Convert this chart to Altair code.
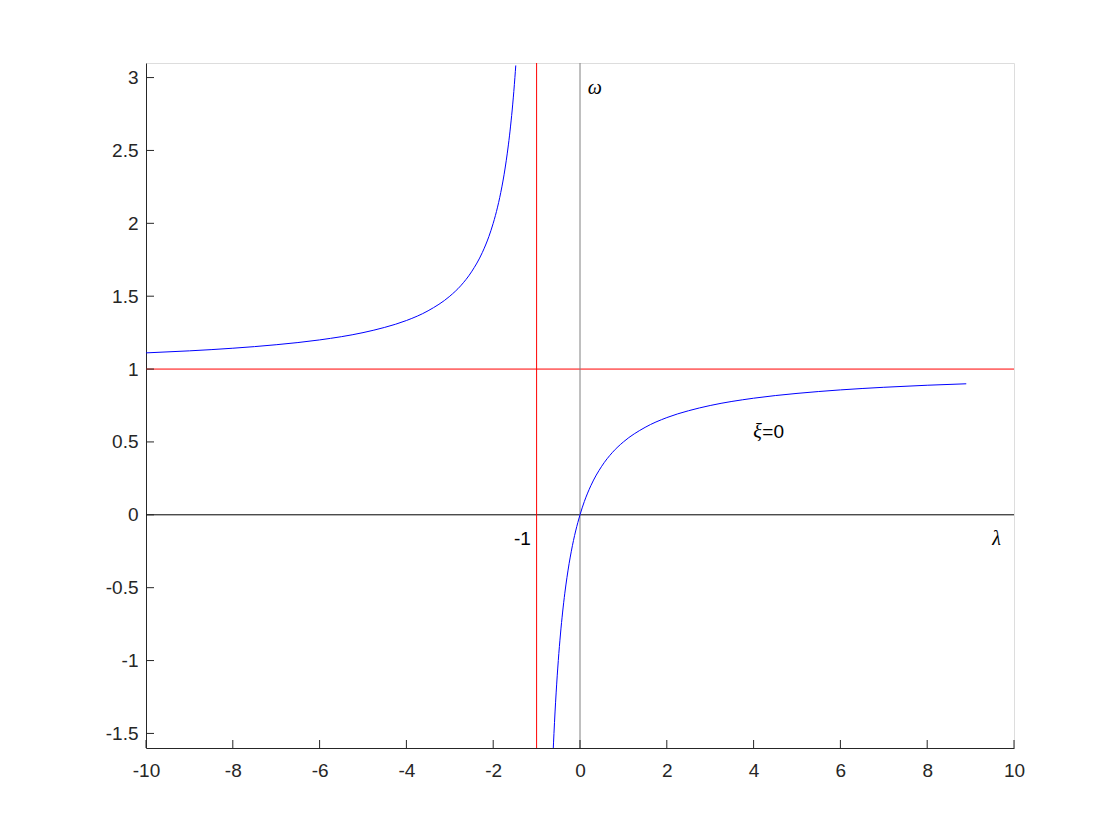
import altair as alt
import pandas as pd

# Left branch of the curve
lam_left = [-10, -9, -8, -7, -6, -5, -4.5, -4, -3.5, -3, -2.75, -2.5, -2.25, -2.1, -2.0,
            -1.9, -1.8, -1.75, -1.7, -1.65, -1.6, -1.55, -1.5, -1.48]
om_left = [1.111, 1.125, 1.143, 1.167, 1.2, 1.25, 1.286, 1.333, 1.4, 1.5, 1.571, 1.667,
           1.8, 1.909, 2.0, 2.111, 2.25, 2.333, 2.429, 2.538, 2.667, 2.818, 3.0, 3.083]

# Right branch of the curve
lam_right = [-0.62, -0.6, -0.55, -0.5, -0.45, -0.4, -0.35, -0.3, -0.25, -0.2, -0.15, -0.1,
             -0.05, 0, 0.1, 0.25, 0.5, 0.75, 1, 1.5, 2, 2.5, 3, 4, 5, 6, 7, 8, 8.9]
om_right = [-1.632, -1.5, -1.222, -1.0, -0.818, -0.667, -0.538, -0.429, -0.333, -0.25,
            -0.176, -0.111, -0.053, 0, 0.091, 0.2, 0.333, 0.429, 0.5, 0.6, 0.667, 0.714,
            0.75, 0.8, 0.833, 0.857, 0.875, 0.889, 0.899]

x_ticks = [-10, -8, -6, -4, -2, 0, 2, 4, 6, 8, 10]
y_ticks = [-1.5, -1, -0.5, 0, 0.5, 1, 1.5, 2, 2.5, 3]

x_domain = [-10, 10]
y_domain = [-1.6, 3.1]

# Annotations: Greek symbols (italic) and plain text
sym_text = ["ω", "λ", "ξ"]
sym_x = [0.18, 9.5, 3.99]
sym_y = [2.93, -0.165, 0.569]

plain_text = ["-1", "=0"]
plain_x = [-1.52, 4.2]
plain_y = [-0.165, 0.569]

W, H = 868, 685

curve = pd.DataFrame({
    "lam": lam_left + lam_right,
    "om": om_left + om_right,
    "branch": ["L"] * len(lam_left) + ["R"] * len(lam_right),
    "order": list(range(len(lam_left))) + list(range(len(lam_right))),
})

xs = alt.Scale(domain=x_domain, nice=False, zero=False)
ys = alt.Scale(domain=y_domain, nice=False, zero=False)

axis_common = dict(
    grid=False, domainColor="#262626", domainWidth=1, tickSize=0,
    labelFont="Liberation Sans", labelFontSize=19, labelColor="#262626",
    labelExpr="'' + datum.value", title=None, labelFlush=False, labelOverlap=False,
)

base_x = alt.X("lam:Q", scale=xs, axis=alt.Axis(values=x_ticks, labelPadding=13, **axis_common))
base_y = alt.Y("om:Q", scale=ys, axis=alt.Axis(values=y_ticks, labelPadding=8, **axis_common))

lines = alt.Chart(curve).mark_line(color="#0000ff", strokeWidth=1, clip=True,
                                   interpolate="monotone").encode(
    x=base_x, y=base_y, detail="branch:N", order="order:Q")

def hline(val, color):
    return alt.Chart(pd.DataFrame({"v": [val]})).mark_rule(color=color, strokeWidth=1).encode(
        y=alt.Y("v:Q", scale=ys))

def vline(val, color):
    return alt.Chart(pd.DataFrame({"v": [val]})).mark_rule(color=color, strokeWidth=1).encode(
        x=alt.X("v:Q", scale=xs))

h0 = hline(0, "#000000")
h1 = hline(1, "#ff0000")
v0 = vline(0, "#808080")
vm1 = vline(-1, "#ff0000")

xt = alt.Chart(pd.DataFrame({"v": x_ticks})).mark_rule(color="#262626", strokeWidth=1).encode(
    x=alt.X("v:Q", scale=xs), y=alt.value(H), y2=alt.value(H - 8))
yt = alt.Chart(pd.DataFrame({"v": y_ticks})).mark_rule(color="#262626", strokeWidth=1).encode(
    y=alt.Y("v:Q", scale=ys), x=alt.value(0), x2=alt.value(8))

sym = pd.DataFrame({"t": sym_text, "x": sym_x, "y": sym_y})
sym_marks = alt.Chart(sym).mark_text(align="left", baseline="middle", fontSize=20,
                                     font="Liberation Serif", fontStyle="italic",
                                     color="#000000").encode(
    x=alt.X("x:Q", scale=xs), y=alt.Y("y:Q", scale=ys), text="t:N")

plain = pd.DataFrame({"t": plain_text, "x": plain_x, "y": plain_y})
plain_marks = alt.Chart(plain).mark_text(align="left", baseline="middle", fontSize=19,
                                         font="Liberation Sans", color="#000000").encode(
    x=alt.X("x:Q", scale=xs), y=alt.Y("y:Q", scale=ys), text="t:N")

chart = alt.layer(h0, h1, v0, vm1, lines, xt, yt, sym_marks, plain_marks).properties(
    width=W, height=H,
    autosize=alt.AutoSizeParams(type="none"),
    padding={"left": 138, "top": 55, "right": 98, "bottom": 76},
).configure_view(stroke=None).configure(background="white")

chart.save("out.html", embed_options={"renderer": "svg", "actions": False})
